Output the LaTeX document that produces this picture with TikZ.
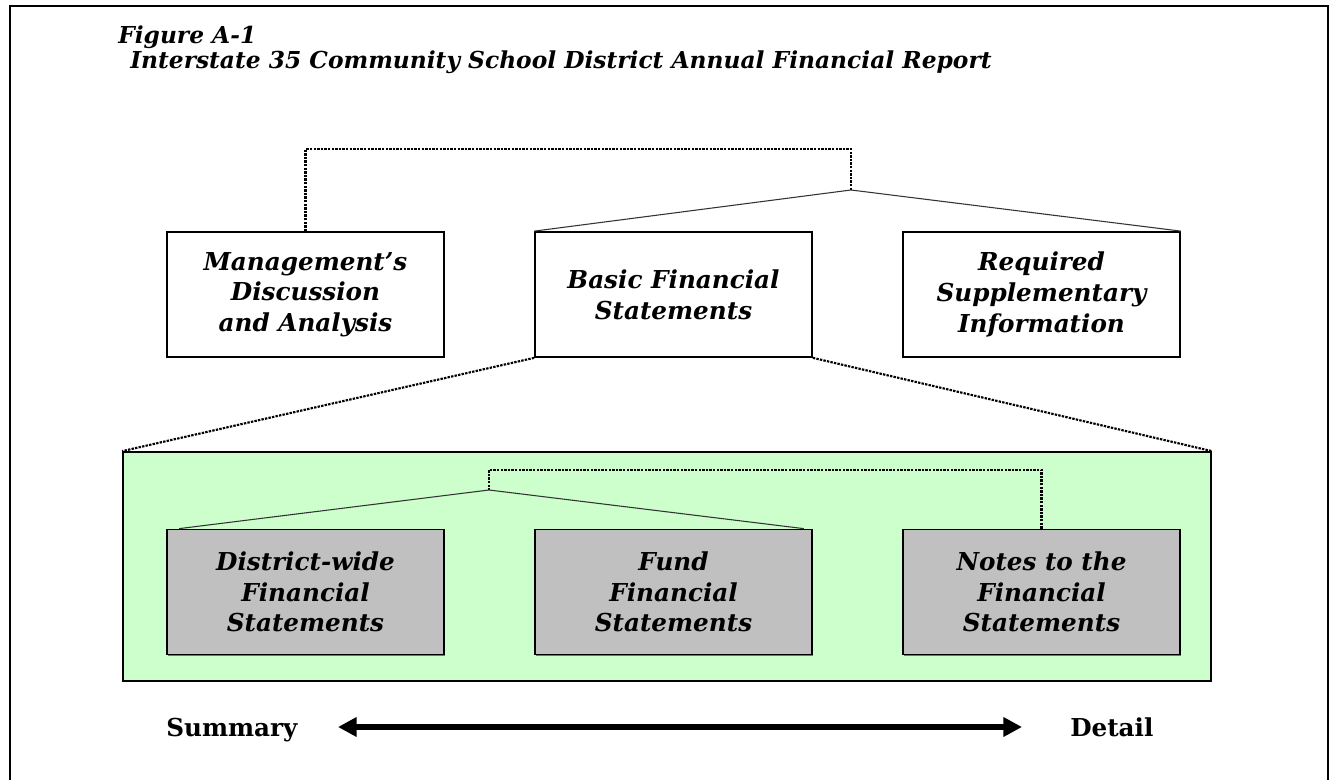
\documentclass[tikz,border=0pt]{standalone}
\usepackage{fontspec}
\setmainfont{DejaVu Serif}
\usetikzlibrary{arrows.meta,shadows}
\definecolor{panelgreen}{HTML}{CCFFCC}
\definecolor{stmtgray}{HTML}{C0C0C0}

\begin{document}
\begin{tikzpicture}[x=0.75pt,y=-0.75pt]
    \tikzstyle{part} = [draw,line width=1.3pt,fill=white,align=center,minimum width=207.75pt,minimum height=93.75pt,font=\fontsize{18.5}{23}\selectfont\bfseries\itshape,drop shadow={shadow xshift=0.9pt,shadow yshift=-0.9pt,fill=black!55,opacity=1}]
    \tikzstyle{stmt} = [part,fill=stmtgray]
    \tikzstyle{dotline} = [line width=1.6pt,dash pattern=on 1.8pt off 0.9pt]
    \tikzstyle{tieline} = [line width=0.8pt,black!80]
    \tikzstyle{heading} = [anchor=base west,inner sep=0pt,font=\fontsize{17.5}{21}\selectfont\bfseries\itshape]
    \tikzstyle{endword} = [anchor=base west,inner sep=0pt,font=\fontsize{18.5}{22.5}\selectfont\bfseries]
    \useasboundingbox (0,0) rectangle (1335,780);
    \draw [line width=1.6pt] (10,782) -- (10,6) -- (1328,6) -- (1328,782);
    \node [heading] (fig) at (118,44) {Figure A-1};
    \node [heading] (title) at (130,69) {Interstate 35 Community School District Annual Financial Report};
    % report parts
    \node [part] (mda) at (305.5, 294.5) {Management's\\Discussion\\and Analysis};
    \node [part] (bfs) at (673.5, 294.5) {Basic Financial\\Statements};
    \node [part] (rsi) at (1041.5, 294.5) {Required\\Supplementary\\Information};
    \coordinate (topjoin) at (851, 190);
    \draw [dotline] (mda.north) -- ++(0,-82) -| (topjoin);
    \draw [tieline] (topjoin) -- (bfs.north west);
    \draw [tieline] (topjoin) -- (rsi.north east);
    % basic statements
    \node [draw,line width=1.3pt,fill=panelgreen,minimum width=816pt,minimum height=171.75pt] (panel) at (667, 566.5) {};
    \draw [dotline] (bfs.south west) -- (panel.north west);
    \draw [dotline] (bfs.south east) -- (panel.north east);
    \node [stmt] (dfs) at (305.5, 592) {District-wide\\Financial\\Statements};
    \node [stmt] (ffs) at (673.5, 592) {Fund\\Financial\\Statements};
    \node [stmt] (nfs) at (1041.5, 592) {Notes to the\\Financial\\Statements};
    \coordinate (lowjoin) at (489, 490);
    \draw [dotline] (nfs.north) -- ++(0,-59) -| (lowjoin);
    \draw [tieline] (lowjoin) -- ([xshift=9.75pt]dfs.north west);
    \draw [tieline] (lowjoin) -- ([xshift=-6.75pt]ffs.north east);
    % summary to detail
    \node [endword] (summary) at (166, 736) {Summary};
    \node [endword] (detail) at (1070, 736) {Detail};
    \coordinate (sumtip) at (338, 727);
    \coordinate (dettip) at (1022, 727);
    \draw [line width=3.8pt,{Triangle[length=14pt,width=14pt]}-{Triangle[length=14pt,width=14pt]}] (sumtip) -- (dettip);
\end{tikzpicture}
\end{document}
